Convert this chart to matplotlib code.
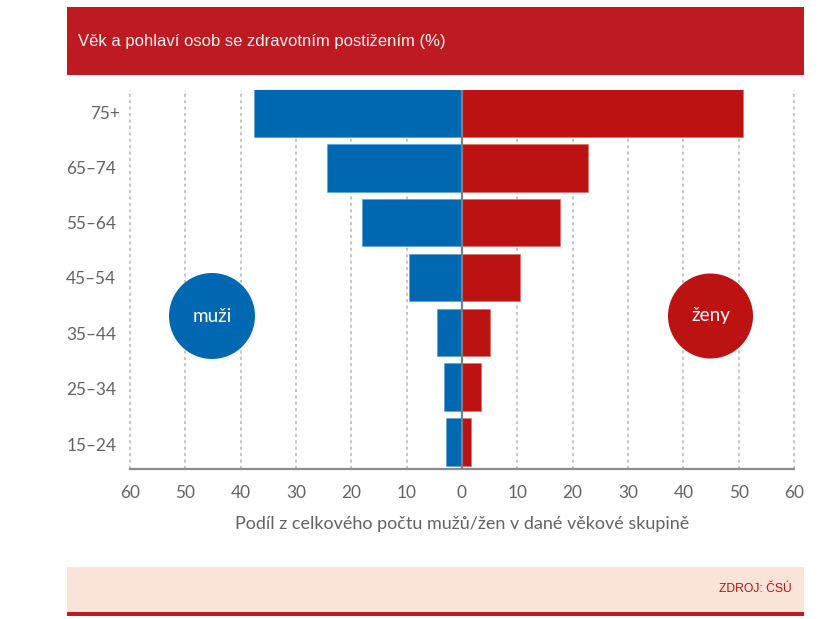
import matplotlib
matplotlib.use("Agg")
import matplotlib.pyplot as plt
from matplotlib.patches import Circle, Rectangle
from matplotlib.transforms import ScaledTranslation

W, H = 837, 619

ages = ["15–24", "25–34", "35–44", "45–54", "55–64", "65–74", "75+"]
men = [2.9, 3.2, 4.5, 9.6, 18.1, 24.4, 37.6]
women = [1.6, 3.4, 5.1, 10.5, 17.7, 22.8, 50.7]
ticks = [-60, -50, -40, -30, -20, -10, 0, 10, 20, 30, 40, 50, 60]

BLUE = "#0067b1"
RED = "#bd1212"
HEAD = "#bd1a22"
TEXT = "#636365"
SANS = "Lato"

fig = plt.figure(figsize=(W / 100, H / 100), dpi=100, facecolor="white")

# page furniture in pixel coordinates
bg = fig.add_axes([0, 0, 1, 1])
bg.set_xlim(0, W)
bg.set_ylim(H, 0)
bg.axis("off")
bg.add_patch(Rectangle((67, 7), 737, 68, color=HEAD, lw=0))
bg.add_patch(Rectangle((67, 567), 737, 45, color="#fae4da", lw=0))
bg.add_patch(Rectangle((67, 612), 737, 4, color=HEAD, lw=0))
bg.text(78, 41.5, "Věk a pohlaví osob se zdravotním postižením (%)", color="#fdf3f1",
        fontsize=11.98, family="Liberation Sans", ha="left", va="center")
bg.text(792, 589.5, "ZDROJ: ČSÚ", color=RED, fontsize=8.7,
        family="Liberation Sans", ha="right", va="center")

# chart axes
ax = fig.add_axes([130 / W, 1 - 468.5 / H, 664 / W, 378.5 / H])
ax.patch.set_alpha(0)
ax.set_xlim(-60, 60)
ax.set_ylim(-0.483, 6.42)
y = range(len(ages))
ax.barh(y, [-m for m in men], height=0.866, color=BLUE, edgecolor="#4f9bd0", lw=0.4, zorder=2)
ax.barh(y, women, height=0.866, color=RED, edgecolor="#d96a5e", lw=0.4, zorder=2)
ax.axvline(0, color="#7d7d7d", lw=1.6, zorder=3)
for t in ticks:
    if t != 0:
        ax.axvline(t, color="#b5b5b5", lw=1.1, ls=(0, (2, 2.2)), zorder=1, clip_on=False)

for s in ["top", "left", "right"]:
    ax.spines[s].set_visible(False)
ax.spines["bottom"].set_color("#8c8c8c")
ax.spines["bottom"].set_linewidth(1.6)
ax.set_xticks(ticks)
ax.set_xticklabels([str(abs(t)) for t in ticks], fontsize=12.4, color=TEXT, family=SANS)
ax.tick_params(axis="x", length=0, pad=12)
ax.set_yticks(list(y))
ax.set_yticklabels(ages, fontsize=12.4, color=TEXT, family=SANS)
ax.tick_params(axis="y", length=0, pad=10)

# labels in the original sit on a slightly wider pitch than the bars
nudges = [(0, -2), (0, -1), (0, -1), (0, 0), (0, 0), (0, 0), (4, 1)]
for lab, (dx, dy) in zip(ax.get_yticklabels(), nudges):
    lab.set_transform(lab.get_transform() + ScaledTranslation(dx / 100, dy / 100, fig.dpi_scale_trans))
ax.set_xlabel("Podíl z celkového počtu mužů/žen v dané věkové skupině", fontsize=13,
              color=TEXT, family=SANS, labelpad=10.5)

# gender badges
bg.add_patch(Circle((212, 316), 43, color=BLUE, lw=0))
bg.add_patch(Circle((710.5, 316), 42.5, color=RED, lw=0))
bg.text(212, 316, "muži", color="white", fontsize=13.6, family=SANS, ha="center", va="center")
bg.text(710.5, 316, "ženy", color="white", fontsize=13.6, family=SANS, ha="center", va="center")
bg.set_zorder(3)
ax.set_zorder(2)
bg.patch.set_alpha(0)

fig.savefig("out.png", dpi=100)
